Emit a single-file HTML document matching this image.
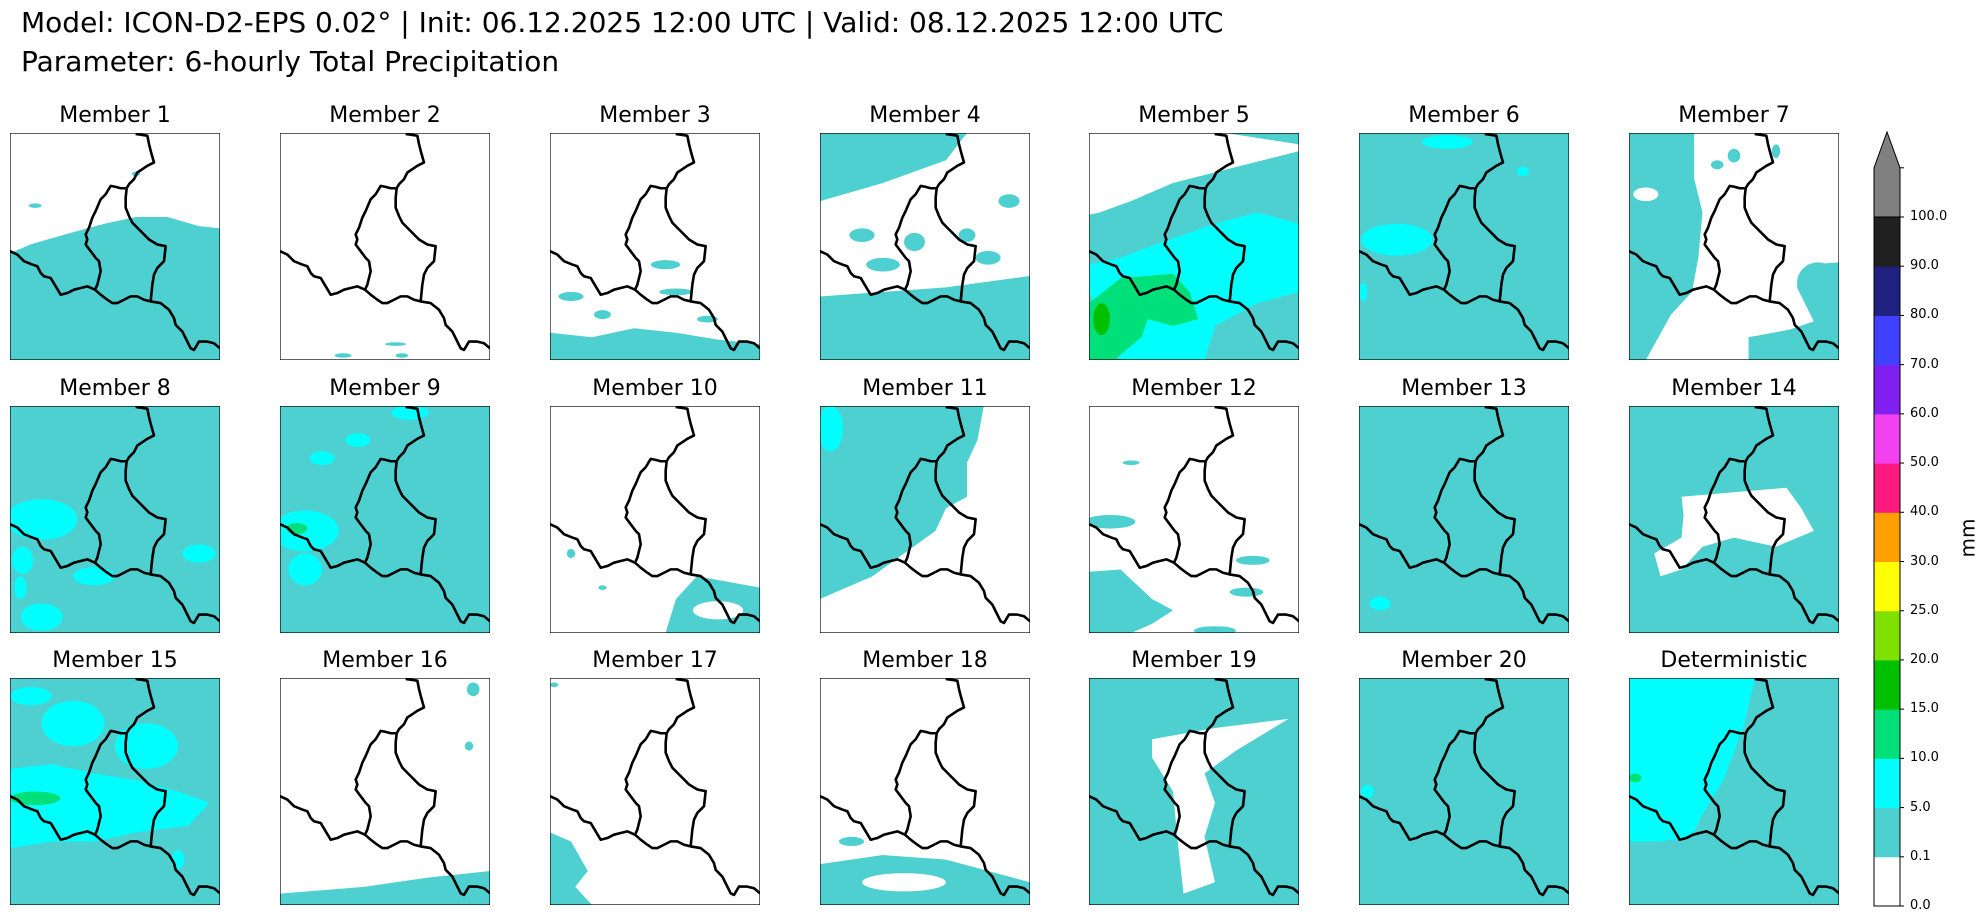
<!DOCTYPE html>
<html><head><meta charset="utf-8">
<style>
html,body{margin:0;padding:0;background:#fff;}
body{width:1984px;height:920px;position:relative;overflow:hidden;font-family:"DejaVu Sans","Liberation Sans",sans-serif;color:#000;}
.title{position:absolute;left:21px;font-size:28px;white-space:nowrap;line-height:1;}
.ptitle{position:absolute;width:210px;text-align:center;font-size:22px;line-height:1;white-space:nowrap;}
.panel{position:absolute;width:210px;height:227px;}
.tick{position:absolute;font-size:13px;line-height:1;left:1910px;}
</style></head>
<body>
<div class="title" style="top:9px">Model: ICON-D2-EPS 0.02° | Init: 06.12.2025 12:00 UTC | Valid: 08.12.2025 12:00 UTC</div>
<div class="title" style="top:48px">Parameter: 6-hourly Total Precipitation</div>
<div id="grid"></div>
<svg id="cbar" width="1984" height="920" style="position:absolute;left:0;top:0"></svg>
<div style="position:absolute;left:1948px;top:528px;font-size:20px;transform:rotate(-90deg);transform-origin:center;line-height:1">mm</div>
<script>
const levels=["0.0","0.1","5.0","10.0","15.0","20.0","25.0","30.0","40.0","50.0","60.0","70.0","80.0","90.0","100.0"];
const colors=["#ffffff","#4ecfd0","#00ffff","#00e07a","#00c000","#80e000","#ffff00","#ffa000","#ff1a80","#f040f0","#8020f0","#4040ff","#202080","#202020","#808080"];
const titles=["Member 1","Member 2","Member 3","Member 4","Member 5","Member 6","Member 7","Member 8","Member 9","Member 10","Member 11","Member 12","Member 13","Member 14","Member 15","Member 16","Member 17","Member 18","Member 19","Member 20","Deterministic"];
const baseIdx=[0,0,0,0,1,1,1,1,1,0,1,0,1,1,1,0,0,0,1,1,1];
const W="#ffffff",T="#4ecfd0",C="#00ffff",G="#00e07a",DG="#00c000";
const shapes=[
 [["p",T,"0,53 10,49 25,45 45,40 60,37 75,37 90,41 100,42 100,100 0,100"],["e",T,12,32,3,1],["e",T,60,18,2,1],["e",T,40,44,4,1.5]],
 [["e",T,55,93,5,0.8],["e",T,30,98,4,1],["e",T,58,98,3,1]],
 [["p",T,"0,88 20,90 40,86 60,88 80,91 100,93 100,100 0,100"],["e",T,10,72,6,2],["e",T,55,58,7,2],["e",T,60,70,8,1.5],["e",T,25,80,4,2],["e",T,75,82,5,1.5]],
 [["p",T,"0,0 70,0 60,12 30,22 0,30"],["p",T,"0,72 30,70 60,68 100,63 100,100 0,100"],["e",T,20,45,6,3],["e",T,45,48,5,4],["e",T,30,58,8,3],["e",T,70,45,4,3],["e",T,90,30,5,3],["e",T,80,55,6,3]],
 [["p",W,"0,0 65,0 100,5 100,8 70,15 40,22 20,30 5,35 0,36"],["p",C,"0,58 15,55 35,48 60,40 80,35 100,40 100,70 80,75 70,80 60,85 55,100 15,100 0,70"],["p",G,"0,75 15,64 40,62 48,70 52,82 40,85 28,82 25,90 12,100 0,100"],["e",DG,6,82,4,7]],
 [["e",C,18,47,17,7],["e",C,42,4,12,3],["e",C,78,17,3,2],["e",C,2,70,2,4]],
 [["p",W,"31,0 100,0 100,57 85,58 80,68 88,83 72,88 57,90 57,100 8,100 20,80 30,70 33,55 35,35 31,20"],["e",T,90,66,10,9],["p",T,"57,90 80,86 100,84 100,100 57,100"],["e",W,8,27,6,3],["e",T,50,10,3,3],["e",T,70,8,2,3],["e",T,42,14,3,2]],
 [["e",C,15,50,17,9],["e",C,6,68,5,6],["e",C,90,65,8,4],["e",C,40,75,10,4],["e",C,15,93,10,6],["e",C,5,80,3,5]],
 [["e",C,12,55,16,9],["e",C,12,72,8,7],["e",C,62,3,9,3],["e",C,37,15,6,3],["e",C,20,23,6,3],["e",G,8,54,5,2.5]],
 [["p",T,"70,75 100,80 100,100 55,100 60,85"],["e",W,80,90,12,4],["e",T,10,65,2,2],["e",T,25,80,2,1]],
 [["p",W,"0,85 25,75 40,65 55,55 60,45 70,40 70,0 100,0 100,100 0,100"],["e",C,5,10,6,10],["p",T,"70,0 78,0 75,15 70,25"]],
 [["e",T,10,51,12,3],["p",T,"0,73 15,72 30,85 40,90 30,96 20,100 0,100"],["e",T,75,82,8,2],["e",T,78,68,8,2],["e",T,60,99,10,2],["e",T,20,25,4,1]],
 [["e",C,10,87,5,3]],
 [["p",W,"25,40 50,38 75,36 82,45 88,55 70,62 50,58 35,62 25,72 15,75 12,65 25,58 26,48"]],
 [["p",C,"0,40 20,38 40,42 60,45 80,50 95,55 85,65 60,68 40,72 20,72 0,75"],["e",C,30,20,15,10],["e",C,65,30,15,10],["e",C,10,8,10,4],["e",C,80,80,3,4],["e",G,12,53,12,3]],
 [["p",T,"0,95 40,92 70,88 100,85 100,100 0,100"],["e",T,92,5,3,3],["e",T,90,30,2,2]],
 [["p",T,"0,68 10,72 18,85 12,92 20,100 0,100"],["e",T,2,3,2,1]],
 [["p",T,"0,82 30,78 60,80 100,90 100,100 0,100"],["e",W,40,90,20,4],["e",T,15,72,6,2]],
 [["p",W,"30,27 60,22 95,18 70,32 55,42 60,55 55,70 60,90 45,95 42,70 40,50 30,35"]],
 [["e",C,4,50,3,3]],
 [["p",C,"0,0 60,0 55,20 45,45 35,60 30,70 15,72 0,72"],["e",G,3,44,3,2]]
];
const border=[
"M405,100 L440,105 445,130 450,150 460,185 440,195 425,205 410,215 400,235 385,250 378,262",
"M378,262 L360,262 345,258 330,255 315,280 300,295 285,330 275,350 265,380 255,400 260,415 255,430 270,450 285,470 295,480 300,510 295,530 290,550 283,565 300,580 320,595 335,605 350,605 370,595 390,585 410,585 430,595 450,600 455,550 460,520 470,500 490,480 495,435 470,430 445,415 430,400 410,380 395,365 385,345 375,320 375,290 378,262",
"M28,450 L50,460 70,480 95,490 110,495 120,515 130,525 150,530 165,555 180,580 200,575 220,565 240,560 260,555 283,565",
"M450,600 L480,605 505,625 520,650 525,670 545,690 555,710 570,740 580,745 595,720 620,720 640,725 658,740"
];
const NS="http://www.w3.org/2000/svg";
const grid=document.getElementById('grid');
const colX=[10,280,550,820,1089,1359,1629], rowY=[133,406,678];
titles.forEach((t,i)=>{
  const c=i%7,r=Math.floor(i/7),x=colX[c],y=rowY[r];
  const tt=document.createElement('div');
  tt.className='ptitle';tt.style.left=x+'px';tt.style.top=(y-28)+'px';tt.textContent=t;
  
  
  grid.appendChild(tt);
  const s=document.createElementNS(NS,'svg');
  s.setAttribute('class','panel');s.setAttribute('viewBox','0 0 100 100');s.setAttribute('preserveAspectRatio','none');
  s.style.left=x+'px';s.style.top=y+'px';
  
  
  let h='<rect x="0" y="0" width="100" height="100" fill="'+colors[baseIdx[i]]+'"/>';
  shapes[i].forEach(sh=>{
    if(sh[0]=='p')h+='<polygon points="'+sh[2]+'" fill="'+sh[1]+'"/>';
    else h+='<ellipse cx="'+sh[2]+'" cy="'+sh[3]+'" rx="'+sh[4]+'" ry="'+sh[5]+'" fill="'+sh[1]+'"/>';
  });
  h+='<g transform="scale(0.15873,0.14749) translate(-28,-97)">';
  border.forEach(d=>{h+='<path d="'+d+'" fill="none" stroke="#000" stroke-width="2.6" vector-effect="non-scaling-stroke" stroke-linejoin="round"/>';});
  h+='</g><rect x="0" y="0" width="100" height="100" fill="none" stroke="#000" stroke-width="1.2" vector-effect="non-scaling-stroke"/>';
  s.innerHTML=h;
  grid.appendChild(s);
});
const cb=document.getElementById('cbar');
const cx0=1874,cx1=1900,yBot=906,step=(906-217)/14;
const yOf=k=>yBot-k*step;
for(let k=0;k<14;k++){
  const r=document.createElementNS(NS,'rect');
  r.setAttribute('x',cx0);r.setAttribute('y',yOf(k+1));r.setAttribute('width',cx1-cx0);r.setAttribute('height',step+0.5);r.setAttribute('fill',colors[k]);
  
  
  cb.appendChild(r);
}
const arrowBase=yOf(15);
const tri=document.createElementNS(NS,'polygon');
tri.setAttribute('points',cx0+','+yOf(14)+' '+cx0+','+arrowBase+' '+(cx0+cx1)/2+',132 '+cx1+','+arrowBase+' '+cx1+','+yOf(14));
tri.setAttribute('fill',colors[14]);tri.setAttribute('stroke','#000');tri.setAttribute('stroke-width','1');


cb.appendChild(tri);
const ol=document.createElementNS(NS,'rect');
ol.setAttribute('x',cx0);ol.setAttribute('y',yOf(14));ol.setAttribute('width',cx1-cx0);ol.setAttribute('height',yBot-yOf(14));ol.setAttribute('fill','none');ol.setAttribute('stroke','#000');


cb.appendChild(ol);
levels.forEach((lv,k)=>{
  const y=yOf(k);
  const ln=document.createElementNS(NS,'line');
  ln.setAttribute('x1',cx1);ln.setAttribute('x2',cx1+4);ln.setAttribute('y1',y);ln.setAttribute('y2',y);ln.setAttribute('stroke','#000');
  
  
  cb.appendChild(ln);
  const d=document.createElement('div');
  d.className='tick';d.style.top=(y-7)+'px';d.textContent=lv;
  
  
  document.body.appendChild(d);
});
const ln2=document.createElementNS(NS,'line');
ln2.setAttribute('x1',cx1);ln2.setAttribute('x2',cx1+4);ln2.setAttribute('y1',arrowBase);ln2.setAttribute('y2',arrowBase);ln2.setAttribute('stroke','#000');


cb.appendChild(ln2);
</script>
</body></html>
